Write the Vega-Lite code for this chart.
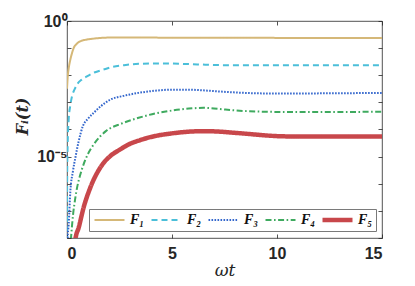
{
  "$schema": "https://vega.github.io/schema/vega-lite/v6.json",
  "width": 315,
  "height": 217,
  "autosize": {"type": "none"},
  "padding": {"left": 67, "top": 21, "right": 33, "bottom": 48},
  "background": "white",
  "config": {
    "view": {"stroke": "#262626", "strokeWidth": 0.8},
    "axis": {
      "domain": false,
      "grid": false,
      "tickColor": "#262626",
      "tickWidth": 0.8,
      "labelColor": "#262626",
      "labelFont": "Liberation Sans",
      "labelFontWeight": "bold",
      "labelFontSize": 16
    },
    "legend": {
      "title": null,
      "symbolType": "stroke",
      "symbolSize": 900,
      "clipHeight": 16,
      "labelFont": "Liberation Serif",
      "labelFontStyle": "italic",
      "labelFontWeight": "bold",
      "labelFontSize": 14,
      "labelColor": "#111111",
      "labelOffset": 3,
      "columnPadding": 4,
      "padding": 3,
      "strokeColor": "#7a7a7a",
      "fillColor": "white"
    }
  },
  "data": {
    "values": [
      {"t": 0, "s": "F₁", "v": 3.2e-3},
      {"t": 0.04, "s": "F₁", "v": 1.0e-2},
      {"t": 0.08, "s": "F₁", "v": 1.78e-2},
      {"t": 0.16, "s": "F₁", "v": 3.8e-2},
      {"t": 0.24, "s": "F₁", "v": 6.6e-2},
      {"t": 0.32, "s": "F₁", "v": 0.102},
      {"t": 0.45, "s": "F₁", "v": 0.141},
      {"t": 0.63, "s": "F₁", "v": 0.178},
      {"t": 0.9, "s": "F₁", "v": 0.204},
      {"t": 1.27, "s": "F₁", "v": 0.224},
      {"t": 2.06, "s": "F₁", "v": 0.245},
      {"t": 3, "s": "F₁", "v": 0.245},
      {"t": 5, "s": "F₁", "v": 0.243},
      {"t": 8, "s": "F₁", "v": 0.24},
      {"t": 15, "s": "F₁", "v": 0.237},

      {"t": 0, "s": "F₂", "v": 3e-9},
      {"t": 0.01, "s": "F₂", "v": 3e-6},
      {"t": 0.03, "s": "F₂", "v": 2.5e-5},
      {"t": 0.08, "s": "F₂", "v": 2.3e-4},
      {"t": 0.16, "s": "F₂", "v": 7.9e-4},
      {"t": 0.24, "s": "F₂", "v": 1.7e-3},
      {"t": 0.36, "s": "F₂", "v": 3.0e-3},
      {"t": 0.48, "s": "F₂", "v": 4.6e-3},
      {"t": 0.7, "s": "F₂", "v": 6.9e-3},
      {"t": 0.95, "s": "F₂", "v": 9.1e-3},
      {"t": 1.3, "s": "F₂", "v": 1.26e-2},
      {"t": 1.74, "s": "F₂", "v": 1.62e-2},
      {"t": 2.14, "s": "F₂", "v": 2.0e-2},
      {"t": 2.8, "s": "F₂", "v": 2.4e-2},
      {"t": 3.41, "s": "F₂", "v": 2.65e-2},
      {"t": 4.2, "s": "F₂", "v": 2.72e-2},
      {"t": 5, "s": "F₂", "v": 2.69e-2},
      {"t": 6, "s": "F₂", "v": 2.54e-2},
      {"t": 6.58, "s": "F₂", "v": 2.45e-2},
      {"t": 8, "s": "F₂", "v": 2.34e-2},
      {"t": 10, "s": "F₂", "v": 2.34e-2},
      {"t": 15, "s": "F₂", "v": 2.34e-2},

      {"t": 0, "s": "F₃", "v": 1e-10},
      {"t": 0.03, "s": "F₃", "v": 1e-8},
      {"t": 0.08, "s": "F₃", "v": 3.2e-8},
      {"t": 0.16, "s": "F₃", "v": 5.4e-7},
      {"t": 0.28, "s": "F₃", "v": 2.8e-6},
      {"t": 0.4, "s": "F₃", "v": 9.3e-6},
      {"t": 0.55, "s": "F₃", "v": 3.5e-5},
      {"t": 0.75, "s": "F₃", "v": 1.3e-4},
      {"t": 1.0, "s": "F₃", "v": 2.5e-4},
      {"t": 1.27, "s": "F₃", "v": 4.1e-4},
      {"t": 1.6, "s": "F₃", "v": 7.1e-4},
      {"t": 2.06, "s": "F₃", "v": 1.26e-3},
      {"t": 2.7, "s": "F₃", "v": 1.74e-3},
      {"t": 3.41, "s": "F₃", "v": 2.24e-3},
      {"t": 4.2, "s": "F₃", "v": 2.69e-3},
      {"t": 5, "s": "F₃", "v": 2.95e-3},
      {"t": 5.8, "s": "F₃", "v": 2.95e-3},
      {"t": 6.35, "s": "F₃", "v": 2.82e-3},
      {"t": 7.1, "s": "F₃", "v": 2.57e-3},
      {"t": 7.94, "s": "F₃", "v": 2.34e-3},
      {"t": 9.52, "s": "F₃", "v": 2.14e-3},
      {"t": 11.1, "s": "F₃", "v": 2.14e-3},
      {"t": 15, "s": "F₃", "v": 2.24e-3},

      {"t": 0.1, "s": "F₄", "v": 1e-9},
      {"t": 0.19, "s": "F₄", "v": 1e-8},
      {"t": 0.29, "s": "F₄", "v": 7.4e-8},
      {"t": 0.38, "s": "F₄", "v": 2.5e-7},
      {"t": 0.48, "s": "F₄", "v": 7.2e-7},
      {"t": 0.62, "s": "F₄", "v": 2.0e-6},
      {"t": 0.79, "s": "F₄", "v": 5.2e-6},
      {"t": 1.0, "s": "F₄", "v": 1.26e-5},
      {"t": 1.27, "s": "F₄", "v": 2.8e-5},
      {"t": 1.85, "s": "F₄", "v": 8.7e-5},
      {"t": 2.6, "s": "F₄", "v": 1.66e-4},
      {"t": 3.41, "s": "F₄", "v": 2.7e-4},
      {"t": 4.2, "s": "F₄", "v": 3.9e-4},
      {"t": 5, "s": "F₄", "v": 5.0e-4},
      {"t": 5.8, "s": "F₄", "v": 5.9e-4},
      {"t": 6.5, "s": "F₄", "v": 6.3e-4},
      {"t": 7.2, "s": "F₄", "v": 5.75e-4},
      {"t": 7.94, "s": "F₄", "v": 5.1e-4},
      {"t": 8.7, "s": "F₄", "v": 4.7e-4},
      {"t": 9.52, "s": "F₄", "v": 4.5e-4},
      {"t": 11.1, "s": "F₄", "v": 4.4e-4},
      {"t": 15, "s": "F₄", "v": 4.5e-4},

      {"t": 0.3, "s": "F₅", "v": 1e-9},
      {"t": 0.4, "s": "F₅", "v": 8.9e-9},
      {"t": 0.56, "s": "F₅", "v": 2.45e-8},
      {"t": 0.79, "s": "F₅", "v": 1.32e-7},
      {"t": 1.11, "s": "F₅", "v": 7.2e-7},
      {"t": 1.59, "s": "F₅", "v": 4.0e-6},
      {"t": 2.06, "s": "F₅", "v": 1.05e-5},
      {"t": 2.5, "s": "F₅", "v": 1.78e-5},
      {"t": 2.93, "s": "F₅", "v": 2.8e-5},
      {"t": 3.5, "s": "F₅", "v": 4.1e-5},
      {"t": 4.2, "s": "F₅", "v": 5.75e-5},
      {"t": 5, "s": "F₅", "v": 7.2e-5},
      {"t": 5.79, "s": "F₅", "v": 8.3e-5},
      {"t": 6.58, "s": "F₅", "v": 8.7e-5},
      {"t": 7.3, "s": "F₅", "v": 8.3e-5},
      {"t": 7.94, "s": "F₅", "v": 7.6e-5},
      {"t": 8.7, "s": "F₅", "v": 6.8e-5},
      {"t": 9.52, "s": "F₅", "v": 6.0e-5},
      {"t": 10.3, "s": "F₅", "v": 5.6e-5},
      {"t": 11.1, "s": "F₅", "v": 5.5e-5},
      {"t": 13, "s": "F₅", "v": 5.5e-5},
      {"t": 15, "s": "F₅", "v": 5.5e-5}
    ]
  },
  "layer": [
    {
      "mark": {"type": "line", "interpolate": "monotone", "clip": true, "strokeCap": "butt"},
      "encoding": {
        "x": {
          "field": "t", "type": "quantitative",
          "scale": {"domain": [0, 15], "nice": false},
          "axis": {
            "values": [0, 5, 10, 15], "tickSize": -4, "labelPadding": 11,
            "title": "ωt", "titleFont": "DejaVu Serif", "titleFontStyle": "italic",
            "titleFontWeight": "normal", "titleFontSize": 17, "titleColor": "#262626", "titlePadding": 1
          }
        },
        "y": {
          "field": "v", "type": "quantitative",
          "scale": {"type": "log", "domain": [1e-8, 1], "nice": false},
          "axis": {
            "values": [1, 0.1, 0.01, 0.001, 0.0001, 0.00001, 0.000001, 0.0000001, 0.00000001],
            "tickSize": -4, "labelPadding": 4,
            "labelExpr": "abs(log(datum.value)/LN10) < 0.01 ? '10⁰' : (abs(log(datum.value)/LN10 + 5) < 0.01 ? '10⁻⁵' : '')",
            "title": "Fᵢ(t)", "titleFont": "DejaVu Serif", "titleFontStyle": "italic",
            "titleFontWeight": "bold", "titleFontSize": 16, "titleColor": "#262626",
            "titleX": -45, "titleY": 95, "titleAngle": -90, "titleAlign": "center", "titleBaseline": "middle"
          }
        },
        "color": {
          "field": "s", "type": "nominal",
          "scale": {"domain": ["F₁", "F₂", "F₃", "F₄", "F₅"], "range": ["#D5B878", "#4BBFD9", "#3366CC", "#3FAA5F", "#C8474B"]},
          "legend": {"orient": "none", "legendX": 22, "legendY": 188, "direction": "horizontal", "columns": 5}
        },
        "strokeDash": {
          "field": "s", "type": "nominal",
          "scale": {"domain": ["F₁", "F₂", "F₃", "F₄", "F₅"], "range": [[1, 0], [6, 4], [1.6, 1.4], [6, 2.5, 1.6, 2.5], [1, 0]]},
          "legend": {"orient": "none", "legendX": 22, "legendY": 188, "direction": "horizontal", "columns": 5}
        },
        "strokeWidth": {
          "field": "s", "type": "nominal",
          "scale": {"type": "ordinal", "domain": ["F₁", "F₂", "F₃", "F₄", "F₅"], "range": [2, 2, 2, 2, 4.5]},
          "legend": {"orient": "none", "legendX": 22, "legendY": 188, "direction": "horizontal", "columns": 5}
        }
      }
    },
    {
      "mark": {"type": "line", "opacity": 0, "clip": true},
      "encoding": {
        "x": {
          "field": "t", "type": "quantitative",
          "scale": {"domain": [0, 15], "nice": false},
          "axis": {"orient": "top", "values": [0, 5, 10, 15], "tickSize": -4, "labels": false, "title": null}
        },
        "y": {
          "field": "v", "type": "quantitative",
          "scale": {"type": "log", "domain": [1e-8, 1], "nice": false},
          "axis": {"orient": "right", "values": [1, 0.1, 0.01, 0.001, 0.0001, 0.00001, 0.000001, 0.0000001, 0.00000001], "tickSize": -4, "labels": false, "title": null}
        },
        "detail": {"field": "s", "type": "nominal"}
      }
    }
  ],
  "resolve": {"axis": {"x": "independent", "y": "independent"}}
}
